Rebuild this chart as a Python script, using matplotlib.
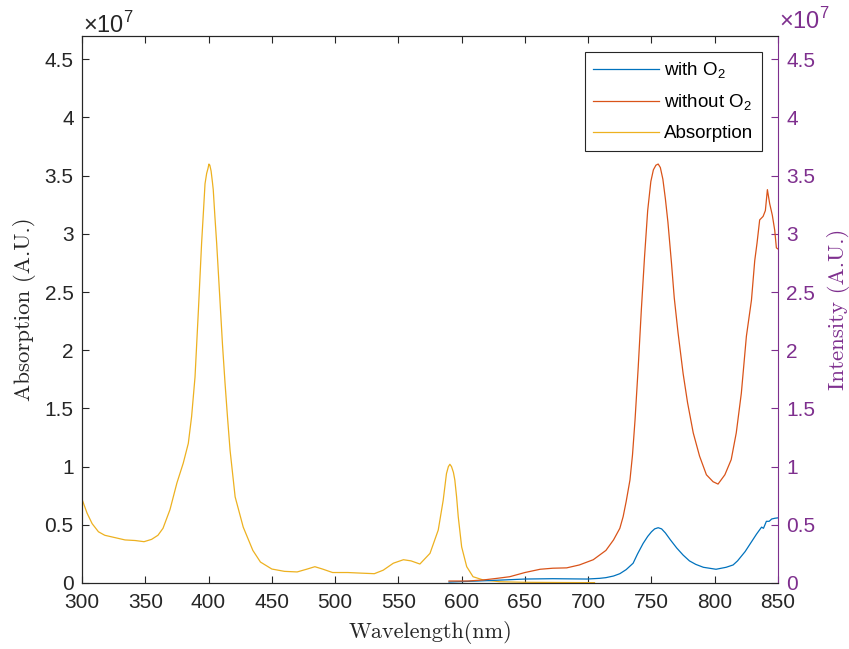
import numpy as np
import matplotlib.pyplot as plt
from matplotlib.ticker import FuncFormatter

# spectra, intensities in units of 1e7
wl_abs = [300, 304, 308, 313, 318, 326, 334, 342, 349, 355, 360, 364, 369.5, 375,
          380, 384, 386.6, 389.3, 392, 394.5, 396, 397.2, 398.5, 399.5, 400.3, 401,
          402, 403, 403.7, 405, 406.4, 409, 411, 413, 415, 417, 421, 427.4, 435, 441,
          450, 460, 470, 478, 484, 490, 498, 510, 520, 531, 538, 546, 554, 560, 567,
          575, 581.5, 585.4, 588, 589.5, 590.7, 592, 593.5, 594.6, 596, 597.3, 600,
          604, 609, 617, 630, 650, 680, 705]
absorption = [0.72, 0.60, 0.51, 0.44, 0.41, 0.39, 0.37, 0.365, 0.355, 0.375, 0.41, 0.47,
              0.63, 0.86, 1.03, 1.20, 1.43, 1.77, 2.35, 2.92, 3.2, 3.43, 3.52, 3.56, 3.6,
              3.59, 3.54, 3.45, 3.38, 3.15, 2.92, 2.43, 2.05, 1.72, 1.42, 1.14, 0.74,
              0.48, 0.28, 0.18, 0.12, 0.10, 0.095, 0.12, 0.14, 0.12, 0.09, 0.09, 0.085,
              0.08, 0.11, 0.17, 0.20, 0.19, 0.163, 0.255, 0.455, 0.71, 0.94, 1.0, 1.02,
              1.0, 0.95, 0.885, 0.74, 0.57, 0.31, 0.14, 0.054, 0.026, 0.011, 0.006,
              0.004, 0.003]

wl_no = [590, 605, 617, 628, 638, 650, 662, 672, 683, 693, 704, 709, 714, 720, 725,
         727.6, 730, 733, 735, 737, 739.5, 742, 744.5, 747, 749.5, 751.5, 753.5, 755.3,
         757, 759, 761, 763, 765.8, 768, 771, 775, 778.5, 783, 788, 793.4, 798.7,
         802.6, 808, 813, 817, 821, 825, 829, 831.6, 833.4, 835.5, 838.2, 840, 841.6,
         843.4, 845.5, 847.4, 848.7, 850]
without_o2 = [0.017, 0.017, 0.026, 0.04, 0.054, 0.09, 0.118, 0.127, 0.13, 0.155, 0.2,
              0.24, 0.28, 0.37, 0.47, 0.57, 0.70, 0.885, 1.1, 1.4, 1.85, 2.35, 2.8,
              3.2, 3.45, 3.55, 3.59, 3.6, 3.57, 3.47, 3.3, 3.1, 2.75, 2.45, 2.15, 1.8,
              1.55, 1.29, 1.09, 0.93, 0.87, 0.85, 0.93, 1.06, 1.29, 1.63, 2.12, 2.43,
              2.77, 2.92, 3.12, 3.15, 3.2, 3.38, 3.26, 3.16, 3.03, 2.88, 2.87]

wl_with = [590, 620, 650, 672, 699, 709, 714, 720, 725, 730, 735.5, 739, 743.4, 747,
           750, 752.5, 755.3, 758, 761, 765, 770, 775, 780, 785, 791, 801, 809, 814.5,
           818, 821, 824, 827.6, 830, 833, 835, 837, 838.5, 840.8, 843, 845, 847.4, 850]
with_o2 = [0.008, 0.02, 0.034, 0.037, 0.034, 0.04, 0.046, 0.06, 0.08, 0.115, 0.17,
           0.25, 0.34, 0.40, 0.44, 0.465, 0.475, 0.465, 0.43, 0.37, 0.3, 0.24, 0.19,
           0.16, 0.135, 0.118, 0.135, 0.155, 0.19, 0.23, 0.27, 0.33, 0.37, 0.42, 0.45,
           0.48, 0.47, 0.53, 0.53, 0.55, 0.556, 0.56]

xticks = np.arange(300, 851, 50)
yticks = np.arange(0, 4.6, 0.5)

c_blue = (0, 0.447, 0.741)
c_orange = (0.85, 0.325, 0.098)
c_yellow = (0.929, 0.694, 0.125)
c_purple = (0.494, 0.184, 0.556)
c_axis = (0.15, 0.15, 0.15)

plt.rcParams['font.family'] = ['Liberation Sans', 'DejaVu Sans']
plt.rcParams['mathtext.fontset'] = 'custom'
plt.rcParams['mathtext.rm'] = 'Liberation Sans'

fig = plt.figure(figsize=(8.49, 6.49), dpi=100)
ax = fig.add_axes([0.0966, 0.1017, 0.8198, 0.8428])
ax2 = ax.twinx()

fmt = FuncFormatter(lambda v, p: '%g' % v)

l1, = ax2.plot(wl_with, with_o2, color=c_blue, lw=0.9)
l2, = ax2.plot(wl_no, without_o2, color=c_orange, lw=0.9)
l3, = ax.plot(wl_abs, absorption, color=c_yellow, lw=0.9)

for a in (ax, ax2):
    a.set_xlim(300, 850)
    a.set_ylim(0, 4.7)
    a.set_yticks(yticks)
    a.yaxis.set_major_formatter(fmt)

ax.set_xticks(xticks)
ax.tick_params(axis='both', direction='in', length=5, width=0.8, colors=c_axis,
               labelsize=15, top=True, pad=6)
ax.tick_params(axis='x', pad=7)
ax2.tick_params(axis='y', direction='in', length=5, width=0.8, colors=c_purple,
                labelsize=15, pad=6)
for s in ('left', 'bottom', 'top'):
    ax.spines[s].set_color(c_axis)
ax2.spines['right'].set_color(c_purple)
ax2.spines['left'].set_color(c_axis)
ax2.spines['top'].set_color(c_axis)
ax2.spines['bottom'].set_color(c_axis)
ax.spines['right'].set_visible(False)

ax.set_xlabel('Wavelength(nm)', fontfamily='cmr10', fontsize=16, color=c_axis,
              labelpad=7)
ax.set_ylabel('Absorption (A.U.)', fontfamily='cmr10', fontsize=16.5, color=c_axis,
              labelpad=6)
ax2.set_ylabel('Intensity (A.U.)', fontfamily='cmr10', fontsize=16.5, color=c_purple,
               labelpad=8)

ax.text(0.002, 0.996, r'$\times10^{7}$', transform=ax.transAxes, fontsize=17,
        color=c_axis, ha='left', va='bottom')
ax2.text(1.002, 1.004, r'$\times10^{7}$', transform=ax.transAxes, fontsize=17,
         color=c_purple, ha='left', va='bottom')

leg = ax2.legend([l1, l2, l3], ['with O$_\\mathrm{2}$', 'without O$_\\mathrm{2}$', 'Absorption'],
                 loc='upper right', bbox_to_anchor=(0.977, 0.971), borderaxespad=0,
                 fontsize=13.5, handlelength=3.5, handletextpad=0.3, labelspacing=0.65,
                 borderpad=0.45, fancybox=False, framealpha=1)
leg.get_frame().set_edgecolor(c_axis)
leg.get_frame().set_linewidth(0.8)

fig.savefig('out.png', dpi=100)
